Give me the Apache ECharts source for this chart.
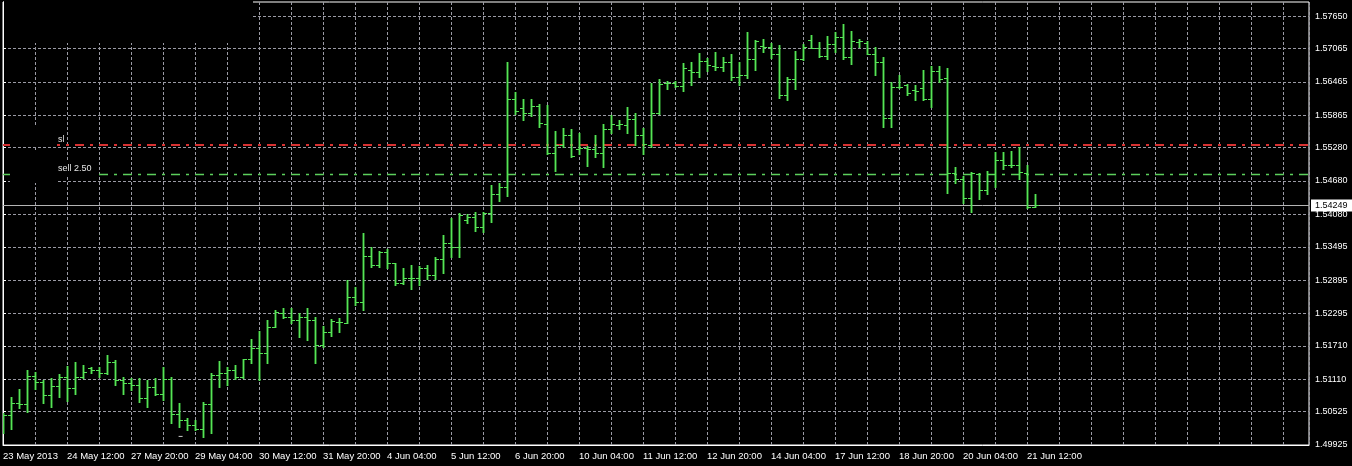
<!DOCTYPE html>
<html>
<head>
<meta charset="utf-8">
<script src="https://cdn.jsdelivr.net/npm/echarts@6/dist/echarts.min.js"></script>
<style>
html,body{margin:0;padding:0;background:#000;}
#chart{width:1352px;height:466px;}
</style>
</head>
<body>
<div id="chart"></div>
<script>
// ---- data (H4 bars) ----
const xLabels = ['23 May 2013','24 May 12:00','27 May 20:00','29 May 04:00','30 May 12:00','31 May 20:00','4 Jun 04:00','5 Jun 12:00','6 Jun 20:00','10 Jun 04:00','11 Jun 12:00','12 Jun 20:00','14 Jun 04:00','17 Jun 12:00','18 Jun 20:00','20 Jun 04:00','21 Jun 12:00'];
const yTicks = [1.49925,1.50525,1.51110,1.51710,1.52295,1.52895,1.53495,1.54080,1.54680,1.55280,1.55865,1.56465,1.57065,1.57650];

const open = [1.50380,1.50470,1.50686,1.50668,1.51172,1.51064,1.50830,1.50992,1.51154,1.50956,
1.51154,1.51316,1.51280,1.51226,1.51424,1.51100,1.51046,1.51010,1.50776,1.50974,
1.50848,1.51118,1.50488,1.50380,1.50290,1.50218,1.50668,1.51190,1.51226,1.51280,
1.51154,1.51478,1.51676,1.51586,1.52054,1.52306,1.52234,1.52180,1.52234,1.52180,
1.51730,1.51964,1.52144,1.52126,1.52594,1.52504,1.53332,1.53170,1.53404,1.53206,
1.52846,1.52936,1.52936,1.53116,1.52990,1.53278,1.53566,1.53494,1.53980,1.54034,
1.53854,1.54106,1.54448,1.54574,1.56158,1.55996,1.55906,1.56032,1.55708,1.55186,
1.55330,1.55510,1.55258,1.55276,1.55258,1.55186,1.55618,1.55690,1.55690,1.55798,
1.55510,1.55330,1.55906,1.56446,1.56446,1.56392,1.56680,1.56644,1.56842,1.56752,
1.56734,1.56824,1.56554,1.56590,1.56878,1.57112,1.57094,1.56968,1.56230,1.56518,
1.56878,1.57220,1.57076,1.56932,1.57148,1.57274,1.56914,1.57184,1.57166,1.56968,
1.56824,1.55816,1.56374,1.56410,1.56320,1.56356,1.56158,1.56662,1.56536,1.54826,
1.54718,1.54376,1.54808,1.54520,1.54808,1.55060,1.54970,1.54970,1.54826,1.54214];
const high = [1.50506,1.50794,1.50938,1.51280,1.51244,1.51100,1.51136,1.51208,1.51352,1.51424,
1.51370,1.51334,1.51334,1.51550,1.51460,1.51154,1.51136,1.51136,1.51100,1.51136,
1.51334,1.51154,1.50686,1.50416,1.50380,1.50704,1.51226,1.51442,1.51334,1.51370,
1.51478,1.51838,1.51982,1.52180,1.52360,1.52396,1.52396,1.52306,1.52396,1.52234,
1.52072,1.52198,1.52216,1.52900,1.52774,1.53746,1.53494,1.53422,1.53458,1.53206,
1.53116,1.53170,1.53152,1.53170,1.53314,1.53710,1.54016,1.54106,1.54088,1.54124,
1.54124,1.54610,1.54646,1.56824,1.56284,1.56158,1.56158,1.56068,1.56050,1.55582,
1.55636,1.55618,1.55546,1.55312,1.55510,1.55708,1.55870,1.55780,1.56014,1.55906,
1.55636,1.56446,1.56518,1.56482,1.56482,1.56806,1.56824,1.56986,1.56896,1.57004,
1.56914,1.56968,1.56824,1.57364,1.57220,1.57238,1.57166,1.57130,1.56554,1.57022,
1.57148,1.57310,1.57184,1.57292,1.57364,1.57508,1.57382,1.57238,1.57202,1.57094,
1.56914,1.56464,1.56590,1.56428,1.56410,1.56680,1.56752,1.56752,1.56716,1.54934,
1.54772,1.54844,1.54826,1.54862,1.55204,1.55204,1.55222,1.55294,1.54970,1.54448];
const low = [1.50146,1.50218,1.50596,1.50524,1.50938,1.50686,1.50614,1.50794,1.50722,1.50848,
1.51136,1.51226,1.51154,1.51208,1.51010,1.50848,1.50920,1.50704,1.50614,1.50830,
1.50740,1.50326,1.50254,1.50200,1.50200,1.50074,1.50146,1.50974,1.51010,1.51118,
1.51136,1.51406,1.51100,1.51406,1.52054,1.52216,1.52126,1.51874,1.51820,1.51406,
1.51694,1.51892,1.51964,1.52126,1.52450,1.52360,1.53134,1.53134,1.53116,1.52810,
1.52828,1.52738,1.52810,1.52918,1.52918,1.53026,1.53314,1.53314,1.53926,1.53782,
1.53764,1.53944,1.54322,1.54412,1.55888,1.55780,1.55852,1.55654,1.55168,1.54862,
1.55294,1.55114,1.55168,1.54952,1.55114,1.54934,1.55546,1.55618,1.55546,1.55330,
1.55168,1.55294,1.55888,1.56338,1.56374,1.56302,1.56410,1.56554,1.56662,1.56680,
1.56662,1.56500,1.56410,1.56536,1.56680,1.57004,1.56896,1.56176,1.56140,1.56338,
1.56860,1.57076,1.56914,1.56878,1.57004,1.56878,1.56788,1.57094,1.56968,1.56590,
1.55654,1.55654,1.56356,1.56230,1.56140,1.56140,1.56014,1.56464,1.54466,1.54646,
1.54286,1.54124,1.54358,1.54448,1.54574,1.54898,1.54934,1.54718,1.54196,1.54214];
const close = [1.50470,1.50686,1.50668,1.51172,1.51064,1.50830,1.50992,1.51154,1.50956,1.51154,
1.51244,1.51280,1.51226,1.51424,1.51100,1.51046,1.51010,1.50776,1.50974,1.50848,
1.51118,1.50488,1.50380,1.50290,1.50218,1.50668,1.51190,1.51226,1.51280,1.51154,
1.51478,1.51676,1.51586,1.52054,1.52324,1.52234,1.52180,1.52234,1.52180,1.51730,
1.51964,1.52162,1.52144,1.52594,1.52504,1.53332,1.53170,1.53404,1.53206,1.52846,
1.52936,1.52936,1.53116,1.52990,1.53278,1.53566,1.53494,1.54070,1.54034,1.53854,
1.54106,1.54448,1.54574,1.56158,1.55942,1.55906,1.56032,1.55726,1.55186,1.55330,
1.55510,1.55132,1.55276,1.55258,1.55186,1.55618,1.55708,1.55708,1.55798,1.55510,
1.55348,1.55906,1.56428,1.56446,1.56392,1.56716,1.56644,1.56842,1.56770,1.56734,
1.56824,1.56554,1.56590,1.56878,1.57202,1.57094,1.56968,1.56230,1.56518,1.56878,
1.57094,1.57076,1.56932,1.57148,1.57274,1.56914,1.57202,1.57202,1.56968,1.56824,
1.55816,1.56374,1.56374,1.56266,1.56302,1.56158,1.56662,1.56518,1.54826,1.54718,
1.54376,1.54826,1.54520,1.54808,1.55060,1.54970,1.54970,1.54844,1.54214,1.54249];

// horizontal levels: current bid, stop loss, sell order
const levelPrices = [1.54249, 1.55330, 1.54808];
const levelTexts  = ['1.54249', 'sl', 'sell 2.50'];
// small trade marker
const markers = [[22.2, 1.50080]];

// ---- chart ----
const FONT = 'Liberation Sans, Arial, sans-serif';
const BAR = '#56e356';
const BAR_GLOW = 'rgba(70,215,70,0.45)';
const GRID = '#9a9aa4';
const bars = open.map((o, i) => [i, o, high[i], low[i], close[i]]);
const levelStyle = [
  {stroke: '#b4b4b4', lineDash: null, width: 1, off: 0.5},
  {stroke: '#d83232', lineDash: [9, 6, 3, 6], width: 2, off: 0},
  {stroke: '#5cd05c', lineDash: [9, 6, 3, 6], width: 1.4, off: 0.5}
];

const chart = echarts.init(document.getElementById('chart'), null, {renderer: 'canvas'});
chart.setOption({
  backgroundColor: '#000',
  animation: false,
  grid: {left: 3, right: 43, top: 2, bottom: 21, show: true, borderColor: '#fff', borderWidth: 1,
         backgroundColor: 'transparent', outerBoundsMode: 'none'},
  xAxis: {
    type: 'value', min: 0, max: 163.25, interval: 4,
    axisLine: {show: true, lineStyle: {color: '#fff'}},
    axisTick: {show: false},
    axisLabel: {
      color: '#fff', fontSize: 9.5, fontFamily: FONT, align: 'left', margin: 6,
      showMaxLabel: false,
      formatter: v => (v % 8 === 0 && v / 8 < xLabels.length) ? xLabels[v / 8] : ''
    },
    splitLine: {show: true, lineStyle: {color: GRID, type: [3, 2], width: 1}}
  },
  yAxis: {
    type: 'value', position: 'right', min: 1.49925, max: 1.57904, scale: true,
    axisLine: {show: true, lineStyle: {color: '#fff'}},
    axisTick: {show: true, length: 3, customValues: yTicks, lineStyle: {color: '#fff'}},
    axisLabel: {customValues: yTicks, color: '#fff', fontSize: 9, fontFamily: FONT, margin: 6,
                formatter: v => v.toFixed(5)},
    splitLine: {show: true, lineStyle: {color: GRID, type: [3, 2], width: 1}}
  },
  series: [{
    type: 'custom',
    data: levelPrices.map((p, i) => [i, p]),
    encode: {x: 0, y: 1},
    clip: false,
    z: 3,
    silent: true,
    renderItem: function (params, api) {
      const i = api.value(0);
      const cs = params.coordSys;
      const ls = levelStyle[i];
      const yy = Math.round(api.coord([0, api.value(1)])[1]) + ls.off;
      const children = [{
        type: 'line',
        shape: {x1: cs.x, y1: yy, x2: cs.x + cs.width, y2: yy},
        style: {stroke: ls.stroke, lineWidth: ls.width, lineDash: ls.lineDash}
      }];
      if (i === 0) {
        children.push({type: 'text', z2: 50, x: cs.x + cs.width + 2, y: yy - 6,
          style: {text: levelTexts[i], fill: '#000', backgroundColor: '#fff',
                  padding: [2, 6, 1, 4], font: '9px ' + FONT, textVerticalAlign: 'top'}});
      }
      return {type: 'group', children: children};
    }
  }, {
    type: 'custom',
    data: bars,
    clip: true,
    z: 4,
    silent: true,
    renderItem: function (params, api) {
      const x = api.value(0);
      const po = api.coord([x, api.value(1)]);
      const ph = api.coord([x, api.value(2)]);
      const pl = api.coord([x, api.value(3)]);
      const pc = api.coord([x, api.value(4)]);
      const px = Math.round(po[0]);
      const yh = Math.round(ph[1]), yl = Math.round(pl[1]);
      const yo = Math.round(po[1]), yc = Math.round(pc[1]);
      const h = Math.max(1, yl - yh + 1);
      return {type: 'group', children: [
        {type: 'rect', shape: {x: px - 1, y: yh, width: 3, height: h}, style: {fill: BAR_GLOW}},
        {type: 'rect', shape: {x: px, y: yh, width: 1, height: h}, style: {fill: BAR}},
        {type: 'rect', shape: {x: px - 3, y: yo, width: 3, height: 1}, style: {fill: BAR}},
        {type: 'rect', shape: {x: px + 1, y: yc, width: 3, height: 1}, style: {fill: BAR}}
      ]};
    }
  }, {
    type: 'scatter',
    data: markers,
    symbol: 'rect',
    symbolSize: [4, 1],
    itemStyle: {color: '#fff'},
    silent: true,
    z: 5
  }]
});

// overlays + trade-level captions, captions placed through the y scale
const grid0 = chart.getModel().getComponent('grid', 0).coordinateSystem.getRect();
const caps = [1, 2].map(i => {
  const yy = Math.round(chart.convertToPixel({gridIndex: 0}, [0, levelPrices[i]])[1]);
  return {type: 'text', z: 101, x: grid0.x + 55, y: yy - 1,
          style: {text: levelTexts[i], fill: '#e6e6e6', font: '9px ' + FONT, textVerticalAlign: 'bottom'}};
});
chart.setOption({graphic: [
  {type: 'rect', z: 100, shape: {x: 4, y: 0, width: 249, height: 43}, style: {fill: '#000'}},
  {type: 'rect', z: 100, shape: {x: 10, y: 125, width: 47, height: 21}, style: {fill: '#000'}},
  {type: 'rect', z: 100, shape: {x: 10, y: 150, width: 47, height: 33}, style: {fill: '#000'}},
  {type: 'rect', z: 100, shape: {x: 57, y: 162, width: 40, height: 14}, style: {fill: '#000'}}
].concat(caps)});
</script>
</body>
</html>
